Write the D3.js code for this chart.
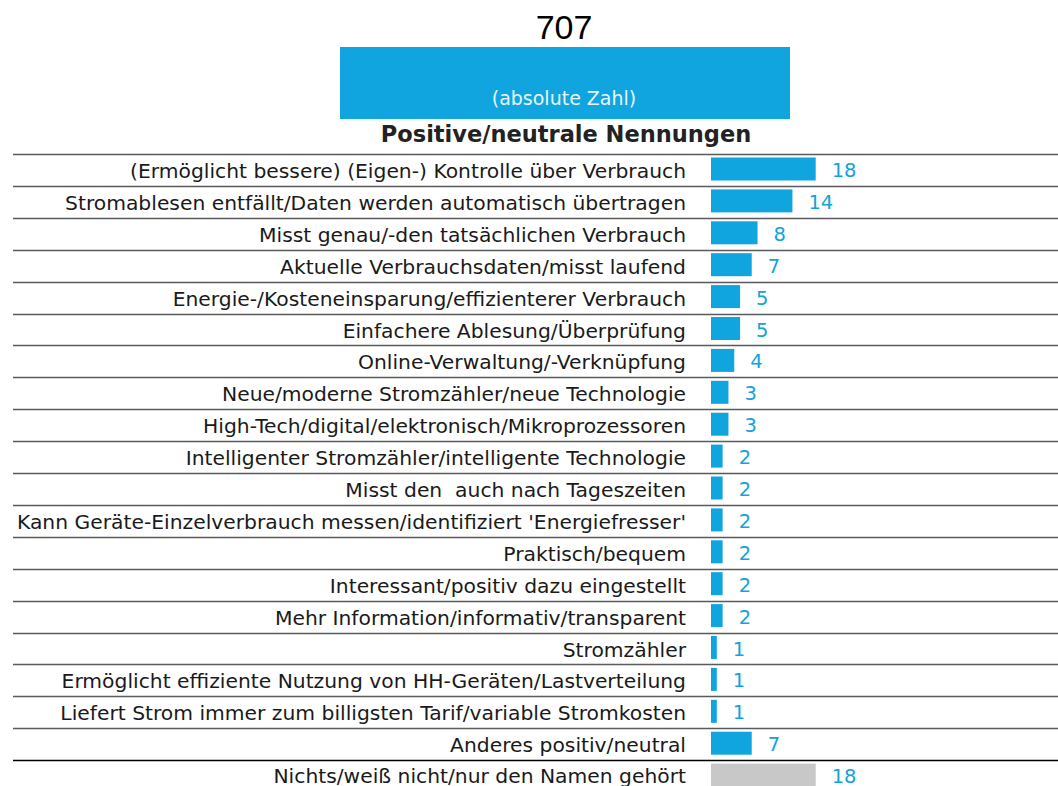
<!DOCTYPE html>
<html lang="de">
<head>
    <meta charset="UTF-8">
    <title>Positive/neutrale Nennungen</title>
    <script src="https://d3js.org/d3.v7.min.js"></script>
    <style>
        body {
            margin: 0;
            padding: 0;
            background-color: #fff;
            overflow: hidden;
        }
        .label {
            font-family: "DejaVu Sans", sans-serif;
            font-size: 20.3px;
            fill: #1a1a1a;
            white-space: pre;
        }
        .value {
            font-family: "DejaVu Sans", sans-serif;
            font-size: 19.5px;
            fill: #12a3dc;
        }
    </style>
</head>
<body>
    <div id="chart"></div>

    <script>
        // Data
        const total = "707";
        const subtitle = "(absolute Zahl)";
        const heading = "Positive/neutrale Nennungen";

        const categories = [
            "(Ermöglicht bessere) (Eigen-) Kontrolle über Verbrauch",
            "Stromablesen entfällt/Daten werden automatisch übertragen",
            "Misst genau/-den tatsächlichen Verbrauch",
            "Aktuelle Verbrauchsdaten/misst laufend",
            "Energie-/Kosteneinsparung/effizienterer Verbrauch",
            "Einfachere Ablesung/Überprüfung",
            "Online-Verwaltung/-Verknüpfung",
            "Neue/moderne Stromzähler/neue Technologie",
            "High-Tech/digital/elektronisch/Mikroprozessoren",
            "Intelligenter Stromzähler/intelligente Technologie",
            "Misst den  auch nach Tageszeiten",
            "Kann Geräte-Einzelverbrauch messen/identifiziert 'Energiefresser'",
            "Praktisch/bequem",
            "Interessant/positiv dazu eingestellt",
            "Mehr Information/informativ/transparent",
            "Stromzähler",
            "Ermöglicht effiziente Nutzung von HH-Geräten/Lastverteilung",
            "Liefert Strom immer zum billigsten Tarif/variable Stromkosten",
            "Anderes positiv/neutral",
            "Nichts/weiß nicht/nur den Namen gehört"
        ];
        const values = [18, 14, 8, 7, 5, 5, 4, 3, 3, 2, 2, 2, 2, 2, 2, 1, 1, 1, 7, 18];
        // the last row is the "nothing" answer, drawn in grey
        const neutralIndex = 19;

        const width = 1058;
        const height = 786;
        const blue = "#10a5de";

        const svg = d3.select("#chart").append("svg")
            .attr("width", width)
            .attr("height", height);

        // Header
        svg.append("text")
            .attr("x", 564)
            .attr("y", 39)
            .attr("text-anchor", "middle")
            .style("font-family", "'Liberation Sans', Arial, sans-serif")
            .style("font-size", "34px")
            .attr("fill", "#000")
            .text(total);

        svg.append("rect")
            .attr("x", 340)
            .attr("y", 47)
            .attr("width", 450)
            .attr("height", 72)
            .attr("fill", blue);

        svg.append("text")
            .attr("x", 564)
            .attr("y", 105)
            .attr("text-anchor", "middle")
            .style("font-family", "'DejaVu Sans', sans-serif")
            .style("font-size", "19px")
            .attr("fill", "#e8f5fb")
            .text(subtitle);

        svg.append("text")
            .attr("x", 566)
            .attr("y", 142)
            .attr("text-anchor", "middle")
            .style("font-family", "'DejaVu Sans', sans-serif")
            .style("font-size", "22.5px")
            .style("font-weight", "bold")
            .attr("fill", "#222")
            .text(heading);

        // Scales
        const rows = categories.map((c, i) => ({ label: c, value: values[i], i: i }));

        const y = d3.scaleBand()
            .domain(d3.range(rows.length))
            .range([154, 154 + 31.9 * rows.length]);

        const x = d3.scaleLinear()
            .domain([0, 18])
            .range([711, 815.7]);

        // Separator lines
        svg.append("g")
            .selectAll("line")
            .data(rows)
            .enter().append("line")
            .attr("x1", 13)
            .attr("x2", width)
            .attr("y1", d => Math.round(y(d.i)) + 0.5)
            .attr("y2", d => Math.round(y(d.i)) + 0.5)
            .attr("stroke", d => d.i === neutralIndex ? "#000" : "#5a5a5a")
            .attr("stroke-width", 1.6);

        // Bars
        svg.append("g")
            .selectAll("rect")
            .data(rows)
            .enter().append("rect")
            .attr("x", x(0))
            .attr("y", d => y(d.i) + 3.5)
            .attr("width", d => x(d.value) - x(0))
            .attr("height", 23)
            .attr("fill", d => d.i === neutralIndex ? "#c8c8c8" : blue);

        // Category labels
        svg.append("g")
            .selectAll("text")
            .data(rows)
            .enter().append("text")
            .attr("class", "label")
            .attr("x", 686)
            .attr("y", d => y(d.i) + (d.i === neutralIndex ? 23 : 24))
            .attr("text-anchor", "end")
            .text(d => d.label);

        // Value labels
        svg.append("g")
            .selectAll("text")
            .data(rows)
            .enter().append("text")
            .attr("class", "value")
            .attr("x", d => x(d.value) + 16)
            .attr("y", d => y(d.i) + 23)
            .text(d => d.value);
    </script>
</body>
</html>
